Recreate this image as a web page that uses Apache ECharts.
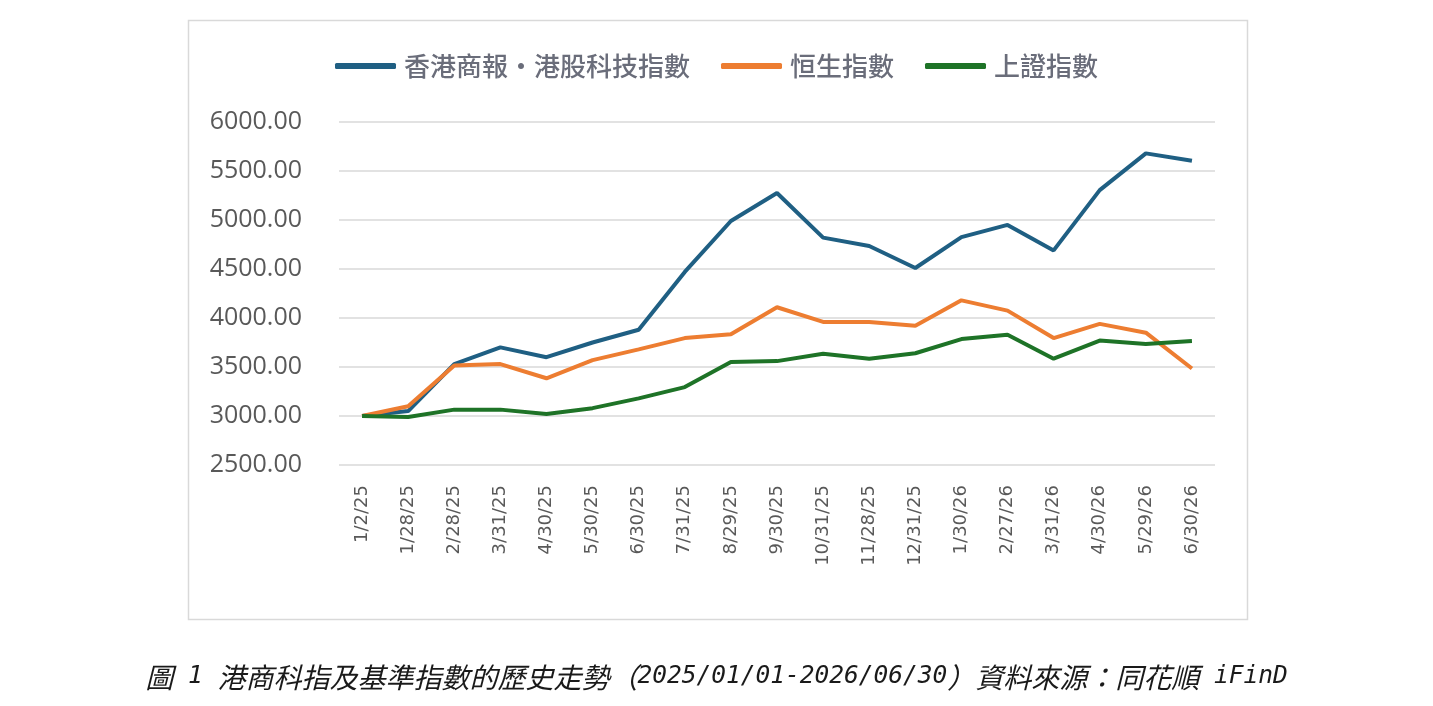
<!DOCTYPE html>
<html>
<head>
<meta charset="utf-8">
<script src="https://cdn.jsdelivr.net/npm/echarts@6/dist/echarts.min.js"></script>
<style>
	html, body { margin: 0; padding: 0; background: #fff; }
	#chart { width: 1433px; height: 706px; }
</style>
</head>
<body>
<div id="chart"></div>
<script>
const dates = ['1/2/25', '1/28/25', '2/28/25', '3/31/25', '4/30/25', '5/30/25', '6/30/25', '7/31/25', '8/29/25', '9/30/25',
	'10/31/25', '11/28/25', '12/31/25', '1/30/26', '2/27/26', '3/31/26', '4/30/26', '5/29/26', '6/30/26']
const techIndex = [3000, 3050, 3530, 3700, 3600, 3750, 3880, 4470, 4990, 5275, 4820, 4735, 4510, 4825, 4950, 4690, 5305, 5680, 5605]
const hangSeng = [3000, 3100, 3515, 3530, 3385, 3570, 3680, 3795, 3835, 4110, 3960, 3960, 3920, 4180, 4075, 3795, 3940, 3850, 3485]
const shanghai = [3000, 2990, 3065, 3065, 3020, 3080, 3180, 3295, 3550, 3560, 3635, 3585, 3640, 3785, 3830, 3585, 3770, 3735, 3765]
const seriesNames = ['香港商報•港股科技指數', '恒生指數', '上證指數']
const caption = '圖 1 港商科指及基準指數的歷史走勢（2025/01/01-2026/06/30）資料來源：同花順 iFinD'

const colors = ['#1F5F83', '#ED7D31', '#1E7327']
const cjkFont = "'Noto Sans CJK TC', 'Noto Sans', sans-serif"

// caption: latin runs in a mono font, CJK runs a bit bigger
const captionRich = caption.replace(/[\x20-\x7e]+/g, (m) => `{l|${m}}`).replace(/[^\x20-\x7e{}|]+/g, (m) => (m.startsWith('l') ? m : `{c|${m}}`))

const chart = echarts.init(document.getElementById('chart'))

const lineSeries = (name, data, color) => ({
	name,
	type: 'line',
	data,
	symbol: 'none',
	smooth: false,
	lineStyle: { width: 4, color },
	itemStyle: { color },
	z: 3,
})

chart.setOption({
	animation: false,
	backgroundColor: '#fff',
	legend: {
		top: 48,
		left: 'center',
		itemWidth: 61,
		itemHeight: 6,
		itemGap: 31,
		icon: 'roundRect',
		textStyle: {
			fontFamily: cjkFont,
			fontSize: 26,
			fontWeight: 500,
			color: '#6a6d7a',
			padding: [0, 0, 0, 3],
		},
		data: seriesNames,
	},
	grid: {
		left: 339,
		right: 218,
		top: 122,
		bottom: 241,
	},
	xAxis: {
		type: 'category',
		data: dates,
		boundaryGap: true,
		axisLine: { show: false },
		axisTick: { show: false },
		axisLabel: {
			rotate: 90,
			margin: 20,
			fontFamily: "'DejaVu Sans', sans-serif",
			fontSize: 18,
			color: '#595959',
		},
	},
	yAxis: {
		type: 'value',
		min: 2500,
		max: 6000,
		interval: 500,
		axisLine: { show: false },
		axisTick: { show: false },
		splitLine: {
			lineStyle: { color: '#d9d9d9', width: 1.5 },
		},
		axisLabel: {
			margin: 37,
			fontFamily: "'Open Sans', sans-serif",
			fontSize: 25,
			color: '#595959',
			formatter: (v) => v.toFixed(2),
		},
	},
	series: [
		lineSeries(seriesNames[0], techIndex, colors[0]),
		lineSeries(seriesNames[1], hangSeng, colors[1]),
		lineSeries(seriesNames[2], shanghai, colors[2]),
	],
	graphic: [
		{
			type: 'rect',
			shape: { x: 188.5, y: 20.5, width: 1059, height: 599 },
			style: { fill: 'none', stroke: '#d9d9d9', lineWidth: 1.5 },
			silent: true,
			z: -1,
		},
		{
			type: 'text',
			left: 'center',
			top: 663,
			style: {
				text: captionRich,
				fill: '#1a1a1a',
				rich: {
					l: {
						fontFamily: "'DejaVu Sans Mono', monospace",
						fontStyle: 'italic',
						fontSize: 24.5,
						fill: '#1a1a1a',
					},
					c: {
						fontFamily: "'Noto Sans CJK TC', sans-serif",
						fontStyle: 'italic',
						fontSize: 28,
						fill: '#1a1a1a',
					},
				},
			},
		},
	],
})

window.addEventListener('resize', () => {
	chart && chart.resize()
})
</script>
</body>
</html>
